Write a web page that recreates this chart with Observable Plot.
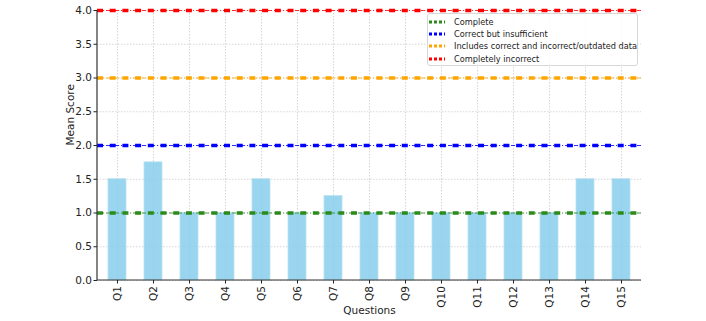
<!DOCTYPE html>
<html><head><meta charset="utf-8">
<script src="https://cdn.jsdelivr.net/npm/d3@7"></script>
<script src="https://cdn.jsdelivr.net/npm/@observablehq/plot@0.6"></script>
<style>
body{margin:0;background:#fff;font-family:"DejaVu Sans",sans-serif;}
#wrap{position:relative;width:706px;height:321px;}
#legend{position:absolute;left:427px;top:13px;width:211px;height:53px;border:1px solid #d6d6d6;border-radius:3px;background:rgba(255,255,255,0.85);font-size:8.2px;color:#222;box-sizing:border-box;}
.item{position:absolute;left:0;height:12px;display:flex;align-items:center;white-space:nowrap;}
.item svg{margin-left:1px;margin-right:9px;}
</style></head><body>
<div id="wrap"><div id="chart"></div><div id="legend"></div></div>
<script>
const questions = ["Q1","Q2","Q3","Q4","Q5","Q6","Q7","Q8","Q9","Q10","Q11","Q12","Q13","Q14","Q15"];
const meanScores = [1.5,1.75,1,1,1.5,1,1.25,1,1,1,1,1,1,1.5,1.5];
const refLabels = ["Complete","Correct but insufficient","Includes correct and incorrect/outdated data","Completely incorrect"];
const refValues = [1,2,3,4];
const refColors = ["#2a8a1a","#0000ff","#ffa500","#ff0000"];
const yTicks = [0,0.5,1,1.5,2,2.5,3,3.5,4];

const bars = questions.map((q,i)=>({q, v: meanScores[i]}));
const refs = refLabels.map((l,i)=>({label:l, v: refValues[i], c: refColors[i]}));

const plot = Plot.plot({
  width: 706, height: 321,
  marginLeft: 97, marginRight: 65, marginTop: 10, marginBottom: 41,
  style: {fontFamily: '"DejaVu Sans", sans-serif', fontSize: "10px", color: "#222", background: "#fff"},
  x: {domain: questions, paddingInner: 0.5, paddingOuter: 0.25, label: null},
  y: {domain: [0,4], label: null},
  marks: [
    Plot.gridX(questions, {stroke: "#bbb", strokeOpacity: 0.6, strokeDasharray: "1.5,1.5"}),
    Plot.gridY(yTicks, {stroke: "#bbb", strokeOpacity: 0.6, strokeDasharray: "1.5,1.5"}),
    Plot.barY(bars, {x: "q", y: "v", fill: "#87ceeb", fillOpacity: 0.85, stroke: "#b8e0f3", strokeWidth: 0.8}),
    Plot.ruleY(refs, {y: "v", stroke: "c", strokeWidth: 1, strokeDasharray: "4,2,1,2", strokeOpacity: 0.8}),
    Plot.ruleY(refs, {y: "v", stroke: "c", strokeWidth: 3.5, strokeDasharray: "6,6.7", dashOffset: -1}),
    Plot.axisY({ticks: yTicks, tickFormat: d3.format(".1f"), tickSize: 3.5, tickPadding: 2, label: null, fontSize: 10.5}),
    Plot.axisX({tickRotate: -90, tickSize: 3.5, tickPadding: 2, label: null, fontSize: 10.5}),
    Plot.text(["Mean Score"], {frameAnchor: "left", dx: -27, rotate: -90, fontSize: 10.5, text: d=>d}),
    Plot.text(["Questions"], {frameAnchor: "bottom", dy: 33, fontSize: 10.5, text: d=>d})
  ]
});
document.getElementById("chart").appendChild(plot);

const svg = d3.select(plot);
svg.append("line").attr("x1",97).attr("x2",97).attr("y1",10).attr("y2",280).attr("stroke","#333").attr("stroke-width",1.2);
svg.append("line").attr("x1",97).attr("x2",641).attr("y1",280).attr("y2",280).attr("stroke","#333").attr("stroke-width",1.2);

const leg = document.getElementById("legend");
const tops = [2,14,26,38.5];
refs.forEach((r,i)=>{
  const d = document.createElement("div");
  d.className = "item";
  d.style.top = tops[i] + "px";
  d.innerHTML = `<svg width="16" height="6"><line x1="0" x2="16" y1="3" y2="3" stroke="${r.c}" stroke-width="3" stroke-dasharray="3,2"/></svg><span>${r.label}</span>`;
  leg.appendChild(d);
});
</script>
</body></html>
